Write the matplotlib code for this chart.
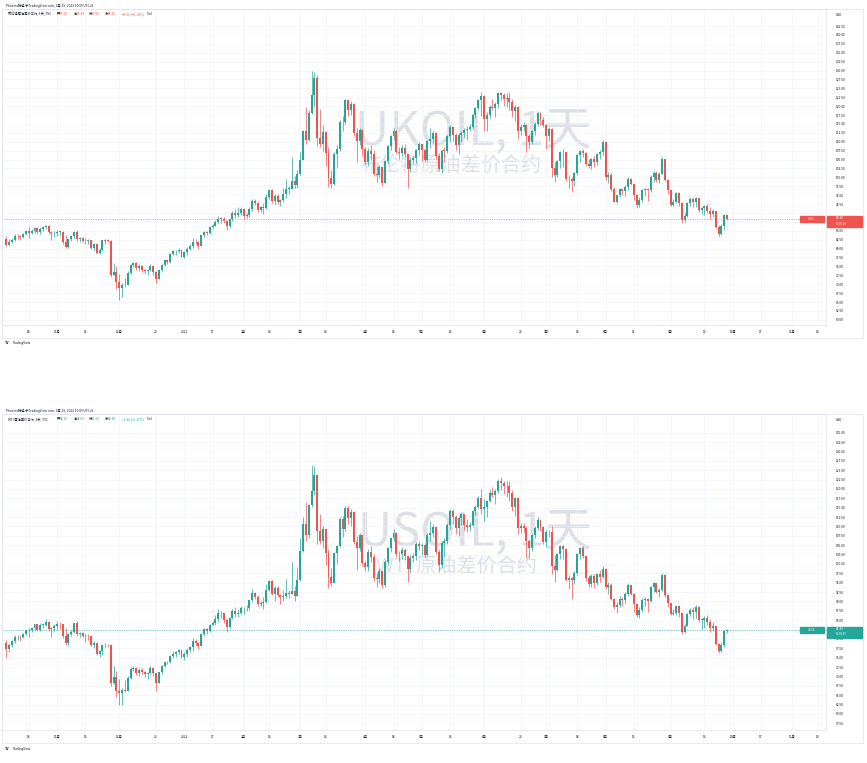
import matplotlib
matplotlib.use("Agg")
import matplotlib.pyplot as plt
import numpy as np
from matplotlib.patches import Rectangle

plt.rcParams["font.family"] = ["Noto Sans CJK SC", "DejaVu Sans"]

UP = "#26a69a"
DOWN = "#ef5350"
GRID = "#f0f3fa"
TEXT = "#131722"

# trading-day index -> label on the time axis
time_ticks = [8, 18, 28, 40, 53, 63, 73, 84, 93, 104, 113, 127, 137, 147, 157,
              169, 182, 191, 202, 212, 222, 235, 247, 257, 267, 278, 287]
time_labels = ["18", "11月", "15", "12月", "20", "2022", "17", "2月", "14", "3月", "14",
               "4月", "18", "5月", "16", "6月", "20", "7月", "18", "8月", "15", "9月",
               "19", "10月", "17", "11月", "14"]

# ---- UKOIL (Brent CFD), daily, 2021-10-06 .. 2022-09-29
brent_close = [
    81.08, 81.95, 82.39, 83.65, 83.42, 83.18, 84.00, 84.86, 84.33, 85.08, 85.82, 84.61, 85.53, 85.99, 86.40, 84.58, 84.32, 84.38,
    84.71, 84.72, 81.99, 80.54, 82.74, 83.43, 84.78, 82.64, 82.87, 82.17, 82.05, 82.43, 80.28, 81.24, 78.89, 79.70, 82.31, 82.25, 82.22, 72.72, 73.44, 70.57,
    68.87, 69.67, 69.88, 73.08, 75.44, 75.82, 74.42, 75.15, 73.90, 73.70, 73.88, 75.02, 73.52, 71.52, 73.98, 75.29, 76.85, 76.14, 78.60, 79.23, 79.32, 79.53, 77.78,
    78.98, 80.00, 80.80, 81.99, 81.75, 80.87, 83.72, 84.67, 84.47, 86.06, 86.48, 87.51, 88.44, 88.38, 87.89, 86.27, 88.20, 89.96, 89.34, 90.03, 91.21,
    89.16, 89.47, 91.11, 93.27, 92.69, 90.78, 91.55, 91.41, 94.44, 96.48, 93.28, 94.81, 92.97, 93.54, 95.39, 96.84, 96.84, 99.08, 97.93, 100.99,
    104.97, 112.93, 110.46, 118.11, 123.21, 127.98, 111.14, 109.33, 112.67, 106.90, 99.91, 98.02, 106.64, 107.93, 115.62, 115.48, 121.60, 119.03, 120.65, 112.48, 110.23, 113.45, 107.91,
    104.39, 107.53, 106.64, 101.07, 100.58, 102.78, 98.48, 104.64, 108.78, 111.70, 113.16, 107.25, 106.80, 108.33, 106.65, 102.32, 104.99, 105.32, 107.59, 109.34,
    107.58, 104.97, 110.14, 110.90, 112.39, 105.94, 102.46, 107.51, 107.45, 111.55, 114.24, 111.93, 109.11, 112.04, 112.55, 113.42, 113.56, 114.03, 117.40, 119.43, 121.67, 122.84,
    116.29, 117.61, 119.72, 119.51, 120.57, 123.58, 123.07, 122.01, 122.27, 121.17, 118.51, 119.81, 113.12, 114.13, 114.65, 111.74, 110.05, 113.12, 115.09, 117.98, 116.26, 114.81,
    111.63, 113.50, 102.77, 100.69, 104.65, 107.02, 107.10, 99.49, 99.57, 99.10, 101.16, 106.27, 107.35, 106.92, 103.86, 103.20, 105.15, 104.40, 106.62, 107.14, 110.01,
    100.03, 100.54, 96.78, 93.12, 94.92, 96.65, 96.31, 97.40, 99.60, 98.15, 95.10, 92.34, 93.65, 96.59, 96.72, 96.48, 100.22, 101.22, 99.34, 100.99, 105.09, 99.31, 96.49,
    92.36, 93.02, 95.74, 92.83, 88.00, 89.15, 92.84, 94.00, 93.17, 94.10, 90.84, 91.35, 92.00, 90.62, 89.83, 90.46, 86.15, 84.06, 86.27, 89.32, 88.30,
]
brent_high = [
    83.5, 82.6, 82.9, 84.2, 84.0, 83.9, 84.5, 85.1, 86.0, 85.6, 86.1, 86.0, 86.1, 86.3, 86.7, 86.5, 84.9, 84.9,
    85.3, 85.0, 85.0, 83.8, 83.0, 83.7, 85.0, 85.2, 83.2, 83.3, 83.0, 82.8, 82.5, 81.5, 81.4, 80.3, 82.5, 82.8, 82.6, 82.4, 76.0, 75.0,
    72.9, 70.3, 71.7, 73.6, 75.8, 76.1, 76.1, 75.6, 75.4, 74.4, 74.0, 75.6, 75.4, 73.7, 74.2, 75.6, 76.9, 76.9, 78.8, 79.6, 79.6, 80.3, 79.6,
    79.3, 80.4, 81.2, 82.9, 82.7, 82.0, 83.9, 85.0, 85.0, 86.4, 87.0, 88.0, 89.1, 89.0, 88.8, 88.0, 88.4, 90.6, 91.0, 91.7, 91.7,
    91.4, 90.0, 91.7, 94.0, 93.9, 93.2, 92.1, 92.8, 95.4, 96.8, 96.7, 95.2, 95.3, 93.9, 97.0, 99.5, 97.6, 105.8, 100.4, 102.0,
    107.0, 113.0, 119.8, 119.0, 130.0, 129.6, 128.7, 119.1, 114.6, 112.9, 108.6, 102.0, 107.0, 109.0, 116.0, 117.3, 122.0, 122.1, 121.5, 120.9, 113.9, 113.8, 113.6,
    108.6, 108.2, 109.0, 107.7, 103.1, 103.4, 102.8, 105.0, 109.2, 111.9, 114.0, 113.3, 108.6, 109.0, 109.3, 106.8, 105.8, 106.1, 108.0, 109.9,
    109.5, 108.0, 110.5, 114.0, 113.1, 112.8, 106.8, 108.0, 108.5, 112.0, 114.8, 114.4, 112.5, 112.5, 113.0, 114.0, 114.5, 115.1, 117.8, 119.9, 122.0, 124.0,
    123.2, 118.3, 120.2, 121.9, 121.2, 124.0, 124.1, 123.6, 123.6, 124.0, 121.9, 120.2, 120.0, 114.9, 115.5, 115.0, 112.1, 113.4, 115.7, 118.6, 118.5, 117.0,
    115.0, 114.1, 114.0, 104.3, 104.9, 107.3, 107.9, 107.2, 100.6, 100.1, 101.4, 106.5, 107.6, 108.0, 107.2, 105.1, 105.5, 106.1, 106.9, 107.8, 110.6,
    110.2, 101.6, 101.2, 97.3, 95.1, 97.0, 97.0, 98.0, 100.0, 99.9, 98.3, 95.3, 94.4, 96.8, 97.0, 97.0, 100.6, 101.8, 101.8, 101.5, 105.6, 105.2, 99.6,
    96.6, 94.0, 96.0, 96.0, 93.0, 89.9, 93.0, 94.5, 94.4, 94.6, 94.2, 91.7, 92.2, 92.4, 91.8, 91.0, 90.6, 86.6, 87.0, 89.6, 89.4,
]
brent_low = [
    80.6, 80.8, 81.6, 82.1, 82.8, 82.3, 82.9, 83.8, 83.0, 84.0, 84.5, 84.1, 84.1, 84.9, 85.5, 84.2, 82.3, 83.2,
    83.6, 83.6, 81.4, 80.1, 80.3, 82.2, 83.0, 82.2, 81.8, 81.8, 81.4, 81.2, 79.9, 79.3, 78.5, 78.6, 79.4, 81.4, 81.8, 72.1, 72.6, 68.6,
    65.7, 66.3, 69.2, 69.8, 72.9, 74.9, 73.9, 73.6, 73.4, 72.9, 72.6, 73.7, 72.6, 70.2, 71.4, 73.5, 75.0, 75.8, 75.9, 78.3, 78.3, 78.9, 77.6,
    77.4, 78.1, 79.7, 80.1, 81.4, 80.0, 80.7, 83.2, 83.8, 84.2, 85.9, 86.3, 86.9, 87.3, 87.3, 85.2, 85.8, 87.8, 88.5, 88.9, 89.4,
    88.3, 88.5, 89.0, 90.7, 92.3, 90.4, 90.3, 89.7, 91.2, 93.9, 92.9, 92.6, 92.6, 91.9, 93.2, 94.3, 95.2, 96.7, 96.9, 97.0,
    100.6, 104.8, 109.3, 110.3, 117.7, 120.0, 108.7, 108.6, 107.3, 103.3, 97.4, 97.1, 97.9, 102.5, 107.5, 112.9, 115.0, 117.2, 117.5, 111.6, 104.4, 109.2, 106.1,
    103.5, 103.3, 105.0, 100.3, 98.8, 99.9, 97.6, 98.1, 103.9, 107.8, 110.5, 106.6, 105.2, 105.9, 105.7, 96.9, 101.5, 103.7, 104.0, 106.2,
    104.7, 104.3, 104.6, 108.3, 109.7, 105.3, 101.7, 101.2, 104.2, 106.8, 109.9, 110.2, 107.6, 106.7, 110.0, 111.2, 110.6, 113.1, 113.7, 116.8, 118.8, 117.2,
    113.0, 112.9, 116.6, 118.8, 116.9, 119.6, 121.6, 120.1, 119.9, 118.8, 117.0, 115.9, 110.9, 111.9, 113.1, 107.0, 107.9, 109.4, 112.0, 114.3, 114.6, 114.2,
    108.0, 110.3, 100.2, 98.8, 100.1, 102.6, 102.8, 99.0, 97.0, 95.9, 97.6, 100.8, 104.3, 105.6, 103.1, 102.6, 102.4, 102.8, 103.5, 105.1, 106.4,
    99.2, 98.5, 96.3, 93.0, 92.8, 94.5, 95.0, 94.8, 96.6, 97.8, 93.6, 91.5, 91.7, 93.0, 94.7, 93.3, 95.9, 98.8, 98.7, 98.5, 100.9, 98.9, 95.3,
    92.1, 92.1, 92.7, 92.0, 87.1, 87.5, 89.0, 92.1, 91.6, 91.8, 90.3, 89.8, 89.4, 89.9, 88.4, 88.8, 85.8, 83.6, 83.8, 85.3, 87.9,
]
# CFD bars open where the previous bar closed
brent_open = [82.56] + brent_close[:-1]

# ---- USOIL (WTI CFD), daily, same sessions
wti_close = [
    77.43, 78.30, 79.35, 80.52, 80.64, 80.44, 81.31, 82.28, 82.44, 82.96, 83.87, 82.50, 83.76, 83.76, 84.65, 82.66, 82.81, 83.57,
    84.05, 83.91, 80.86, 78.81, 81.27, 81.93, 84.15, 81.34, 81.59, 80.79, 80.88, 80.76, 78.36, 79.01, 76.10, 76.75, 78.50, 78.39, 78.30, 68.15, 69.95, 66.18,
    65.57, 66.50, 66.26, 69.49, 72.05, 72.36, 70.94, 71.67, 71.29, 70.73, 70.87, 72.38, 70.86, 68.23, 71.12, 72.76, 73.79, 73.80, 75.57, 75.98, 76.56, 76.99, 75.21,
    76.08, 76.99, 77.85, 79.46, 78.90, 78.23, 81.22, 82.64, 82.12, 83.82, 84.20, 85.43, 86.96, 86.90, 85.14, 83.31, 85.60, 87.35, 86.61, 86.82, 88.15,
    88.20, 88.26, 90.27, 92.31, 91.32, 89.36, 89.66, 89.88, 93.10, 95.46, 92.07, 93.66, 91.76, 91.07, 91.50, 92.35, 92.10, 92.81, 91.59, 95.72,
    103.41, 110.60, 107.67, 115.68, 119.40, 123.70, 108.70, 106.02, 109.33, 103.01, 96.44, 95.04, 102.98, 104.70, 112.12, 109.27, 114.93, 112.34, 113.90, 105.96, 104.24, 107.82, 100.28,
    99.27, 103.28, 101.96, 96.23, 96.03, 98.26, 94.29, 100.60, 104.25, 106.95, 108.21, 102.56, 102.75, 103.79, 102.07, 98.54, 101.70, 102.02, 105.36, 104.69,
    105.17, 102.41, 107.81, 108.26, 109.77, 103.09, 99.76, 105.71, 106.13, 110.49, 114.20, 112.40, 109.59, 112.21, 113.23, 110.29, 109.77, 110.33, 114.09, 115.07, 117.50, 114.67,
    115.26, 116.87, 118.87, 118.50, 119.41, 122.11, 121.51, 120.67, 120.93, 118.93, 115.31, 117.59, 109.56, 110.00, 109.52, 106.19, 104.27, 107.62, 109.57, 111.76, 109.78, 105.76,
    108.43, 108.50, 99.50, 98.53, 102.73, 104.79, 104.09, 95.84, 96.30, 95.78, 97.59, 102.60, 104.22, 102.26, 96.35, 94.70, 96.70, 94.98, 97.26, 96.42, 98.62,
    93.89, 94.42, 90.66, 88.54, 89.01, 90.76, 90.50, 91.93, 94.34, 92.09, 89.41, 86.53, 87.85, 90.50, 90.77, 90.23, 93.74, 94.89, 92.52, 93.06, 97.01, 91.64, 89.55,
    86.61, 86.87, 88.80, 86.88, 81.94, 83.54, 86.79, 87.78, 87.31, 88.48, 85.10, 85.11, 85.73, 84.45, 82.94, 83.49, 78.74, 76.71, 78.50, 82.15, 82.45,
]
wti_high = [
    79.8, 78.9, 79.8, 81.0, 81.0, 81.0, 81.6, 82.4, 83.0, 83.1, 84.0, 84.0, 84.2, 84.3, 85.4, 84.7, 83.3, 84.1,
    84.9, 84.4, 84.0, 83.0, 81.5, 82.3, 84.3, 84.9, 81.9, 81.9, 81.4, 81.2, 80.8, 79.4, 79.3, 77.0, 78.6, 79.0, 78.6, 78.4, 72.8, 71.4,
    69.4, 67.0, 69.0, 70.0, 72.4, 72.9, 72.6, 72.2, 72.2, 71.4, 71.2, 72.9, 72.6, 70.9, 71.3, 73.0, 73.9, 74.1, 75.8, 76.9, 76.8, 77.2, 77.0,
    76.5, 77.6, 78.1, 80.2, 80.0, 79.1, 81.3, 83.0, 82.8, 84.1, 84.8, 86.3, 87.9, 87.4, 86.9, 85.3, 85.9, 88.0, 88.5, 88.0, 88.8,
    88.6, 89.0, 90.4, 93.2, 92.6, 91.6, 90.2, 91.1, 94.7, 95.8, 95.6, 94.0, 94.0, 92.1, 93.0, 96.0, 93.0, 100.5, 94.0, 99.1,
    106.8, 112.5, 116.6, 116.0, 126.5, 126.0, 124.0, 113.2, 110.0, 109.4, 104.0, 99.0, 103.3, 105.0, 112.5, 112.9, 115.4, 115.4, 114.7, 114.0, 107.5, 108.3, 108.0,
    100.9, 104.0, 104.7, 102.7, 97.6, 98.8, 98.5, 101.0, 104.6, 107.0, 109.2, 108.5, 103.5, 104.5, 104.3, 102.1, 102.4, 102.9, 105.8, 106.2,
    105.5, 105.6, 108.3, 111.4, 110.7, 110.0, 104.0, 106.0, 106.8, 110.9, 114.6, 114.6, 113.0, 112.8, 113.7, 113.4, 111.9, 111.2, 114.4, 115.6, 118.0, 119.9,
    117.2, 117.1, 120.0, 120.4, 120.0, 122.7, 123.2, 122.2, 122.0, 122.0, 119.6, 117.9, 117.8, 110.8, 110.8, 110.0, 106.6, 107.9, 110.2, 112.4, 112.0, 110.2,
    109.0, 109.0, 110.0, 102.4, 103.0, 105.1, 105.0, 104.2, 97.1, 96.5, 98.0, 102.8, 104.6, 104.8, 102.5, 97.0, 97.2, 97.3, 97.6, 98.3, 99.4,
    98.9, 95.3, 95.0, 91.0, 89.8, 91.4, 91.2, 92.6, 94.8, 94.4, 92.2, 89.6, 88.4, 90.9, 91.1, 91.0, 94.0, 95.3, 95.0, 93.6, 97.7, 97.2, 91.9,
    89.6, 88.1, 89.1, 89.0, 87.0, 84.1, 87.0, 88.2, 88.4, 89.0, 88.7, 85.6, 86.0, 86.3, 85.2, 84.4, 83.5, 79.0, 79.2, 82.4, 82.6,
]
wti_low = [
    74.9, 76.6, 77.8, 79.0, 79.6, 79.4, 80.3, 81.0, 80.6, 81.9, 82.4, 82.1, 82.0, 82.9, 83.5, 82.1, 80.6, 82.2,
    82.4, 82.6, 80.3, 78.3, 78.2, 80.7, 81.6, 80.9, 80.6, 80.4, 79.3, 79.6, 78.1, 77.6, 75.8, 75.3, 75.7, 77.6, 77.8, 67.4, 68.0, 64.4,
    62.4, 62.4, 65.8, 66.1, 69.3, 71.4, 70.4, 70.0, 70.7, 69.9, 69.4, 70.7, 70.2, 66.2, 68.2, 70.7, 72.5, 73.2, 73.5, 75.0, 75.2, 76.0, 74.9,
    74.3, 75.3, 76.6, 76.8, 78.2, 77.2, 78.0, 80.8, 81.4, 81.8, 83.6, 83.8, 84.4, 85.7, 84.3, 81.9, 82.9, 85.3, 85.8, 85.9, 86.6,
    86.6, 87.4, 87.8, 89.9, 90.6, 88.7, 88.8, 88.0, 89.6, 92.8, 91.6, 90.0, 91.3, 89.3, 90.0, 90.9, 90.9, 91.9, 90.1, 91.4,
    95.5, 103.2, 106.0, 107.0, 115.2, 118.3, 105.3, 105.3, 104.2, 99.8, 93.5, 94.1, 95.0, 100.0, 104.4, 107.2, 108.9, 110.7, 110.0, 105.2, 98.4, 103.5, 99.4,
    98.2, 98.0, 100.5, 95.4, 93.8, 95.0, 93.7, 93.9, 99.8, 103.2, 106.0, 101.9, 100.9, 101.3, 101.0, 95.3, 97.6, 100.4, 101.1, 103.6,
    102.3, 101.6, 102.0, 106.2, 107.2, 102.6, 98.2, 99.0, 101.8, 105.3, 109.3, 110.6, 107.9, 107.5, 110.3, 109.0, 108.4, 108.9, 110.0, 113.0, 114.8, 113.4,
    111.4, 112.6, 116.4, 117.8, 115.9, 118.9, 119.7, 118.6, 117.8, 116.7, 114.0, 112.9, 107.9, 108.2, 108.5, 101.6, 101.7, 103.5, 106.9, 109.0, 108.7, 105.3,
    104.6, 107.3, 97.4, 95.1, 98.0, 101.2, 101.3, 95.4, 93.3, 90.6, 94.6, 97.0, 101.2, 101.6, 95.4, 93.9, 93.9, 93.6, 94.4, 95.3, 96.2,
    93.4, 92.0, 90.4, 87.9, 87.0, 88.5, 88.7, 89.6, 91.4, 91.8, 87.3, 85.8, 85.7, 87.1, 88.8, 87.1, 89.8, 92.6, 92.3, 91.2, 92.9, 91.2, 88.4,
    86.3, 86.4, 86.5, 85.9, 81.2, 81.5, 83.5, 86.2, 85.2, 85.7, 84.5, 82.6, 82.9, 83.8, 81.8, 82.1, 78.3, 76.3, 76.6, 77.8, 81.6,
]
wti_open = [78.93] + wti_close[:-1]

W, H = 867, 763


def fx(px):
    return px / W


def fy(py):
    return 1 - py / H


def draw_candles(ax, opens, highs, lows, closes):
    o = np.array(opens)
    c = np.array(closes)
    idx = np.arange(len(c))
    colors = np.where(c >= o, UP, DOWN)
    ax.vlines(idx, lows, highs, colors=colors, linewidth=0.5, zorder=3)
    body = np.maximum(np.abs(c - o), 0.12)
    ax.bar(idx, body, bottom=np.minimum(o, c), width=0.7, color=colors,
           linewidth=0, zorder=4)


def style_panel(ax, ylim, yticks, last):
    ax.set_xlim(-1.5, 290)
    ax.set_ylim(*ylim)
    ax.set_xticks(time_ticks)
    ax.set_xticklabels(time_labels)
    ax.set_yticks(yticks)
    # the price tag covers the scale labels right next to the last price
    ax.set_yticklabels(["" if abs(v - last) < 2.4 else f"{v:.2f}" for v in yticks])
    ax.yaxis.tick_right()
    ax.tick_params(axis="both", length=0, labelsize=2.3, colors=TEXT)
    ax.tick_params(axis="x", pad=3.5)
    ax.tick_params(axis="y", pad=7)
    ax.grid(True, color=GRID, linewidth=0.5, zorder=0)
    for sp in ax.spines.values():
        sp.set_color("#e0e3eb")
        sp.set_linewidth(0.5)


def header(fig, top, name, values, color):
    fig.text(fx(6), fy(top + 5.5), "Phoenix财经 于TradingView.com, 9月 29, 2022 10:09 UTC+8",
             fontsize=2.3, color=TEXT, va="center")
    fig.text(fx(8), fy(top + 14.3), name, fontsize=2.3, color=TEXT, va="center")
    xs = [57, 74, 89, 105]
    for x, lab, val in zip(xs, ["开", "高", "低", "收"], values[:4]):
        fig.text(fx(x), fy(top + 14.3), lab, fontsize=2.3, color=TEXT, va="center")
        fig.text(fx(x + 3), fy(top + 14.3), val, fontsize=2.3, color=color, va="center")
    fig.text(fx(122), fy(top + 14.3), values[4], fontsize=2.3, color=color, va="center")
    fig.text(fx(147), fy(top + 14.3), "Vol", fontsize=2.3, color=TEXT, va="center")


def price_tag(fig, ax, price, symbol, countdown, color):
    ax.axhline(price, color=color, linewidth=0.5, linestyle=(0, (1, 1.5)), zorder=2)
    ypix = H - ax.transData.transform((0, price))[1]
    fig.patches.append(Rectangle((fx(800), fy(ypix + 3)), 24 / W, 6 / H,
                                 transform=fig.transFigure, color=color, zorder=5))
    fig.text(fx(812), fy(ypix), symbol, fontsize=2.0, color="white",
             ha="center", va="center", zorder=6)
    fig.patches.append(Rectangle((fx(827), fy(ypix + 8)), 35 / W, 11 / H,
                                 transform=fig.transFigure, color=color, zorder=5))
    fig.text(fx(836), fy(ypix - 1), f"{price:.2f}", fontsize=2.3, color="white",
             va="center", zorder=6)
    fig.text(fx(836), fy(ypix + 4.5), countdown, fontsize=2.0, color="white",
             va="center", zorder=6)


def watermark(ax, title, subtitle, pos_title, pos_sub):
    ax.text(*pos_title, title, transform=ax.transAxes, fontsize=34,
            color="#dcdfe4", ha="center", va="center", zorder=1)
    ax.text(*pos_sub, subtitle, transform=ax.transAxes, fontsize=14.5,
            color="#dcdfe4", ha="center", va="center", zorder=1)


def logo(fig, y):
    fig.text(fx(5), fy(y), "TV", fontsize=2.6, color=TEXT, weight="bold", va="center")
    fig.text(fx(13), fy(y), "TradingView", fontsize=2.3, color=TEXT, va="center")


fig = plt.figure(figsize=(W / 100, H / 100), dpi=100)

# panel frames (chart + price scale + time scale)
for top, bottom in [(9, 338), (414, 743)]:
    fig.patches.append(Rectangle((fx(2), fy(bottom)), 861 / W, (bottom - top) / H,
                                 transform=fig.transFigure, fill=False,
                                 edgecolor="#e0e3eb", linewidth=0.5))

# ---- top: Brent
ax1 = fig.add_axes([fx(2), fy(325), 824 / W, 316 / H])
style_panel(ax1, (58.54, 147.30), list(np.arange(60, 143, 2.5)), brent_close[-1])
draw_candles(ax1, brent_open, brent_high, brent_low, brent_close)
watermark(ax1, "UKOIL, 1天", "布伦特原油差价合约", (0.572, 0.614), (0.545, 0.506))
header(fig, 0, "布伦特原油差价合约, 1天, TVC",
       ["89.32", "89.40", "87.90", "88.30", "−1.02 (−1.14%)"], DOWN)
fig.text(fx(836), fy(15), "USD", fontsize=2.3, color=TEXT, va="center")
price_tag(fig, ax1, brent_close[-1], "UKOIL", "13:50:39", DOWN)
logo(fig, 343)

# ---- bottom: WTI
ax2 = fig.add_axes([fx(2), fy(730), 824 / W, 316 / H])
style_panel(ax2, (55.73, 140.0), list(np.arange(57.5, 136, 2.5)), wti_close[-1])
draw_candles(ax2, wti_open, wti_high, wti_low, wti_close)
watermark(ax2, "USOIL, 1天", "WTI 原油差价合约", (0.574, 0.627), (0.551, 0.516))
header(fig, 405, "WTI 原油差价合约, 1天, TVC",
       ["82.15", "82.60", "81.60", "82.45", "+0.30 (+0.37%)"], UP)
fig.text(fx(836), fy(420), "USD", fontsize=2.3, color=TEXT, va="center")
price_tag(fig, ax2, wti_close[-1], "USOIL", "13:50:39", UP)
logo(fig, 749)

fig.savefig("out.png", dpi=100)
